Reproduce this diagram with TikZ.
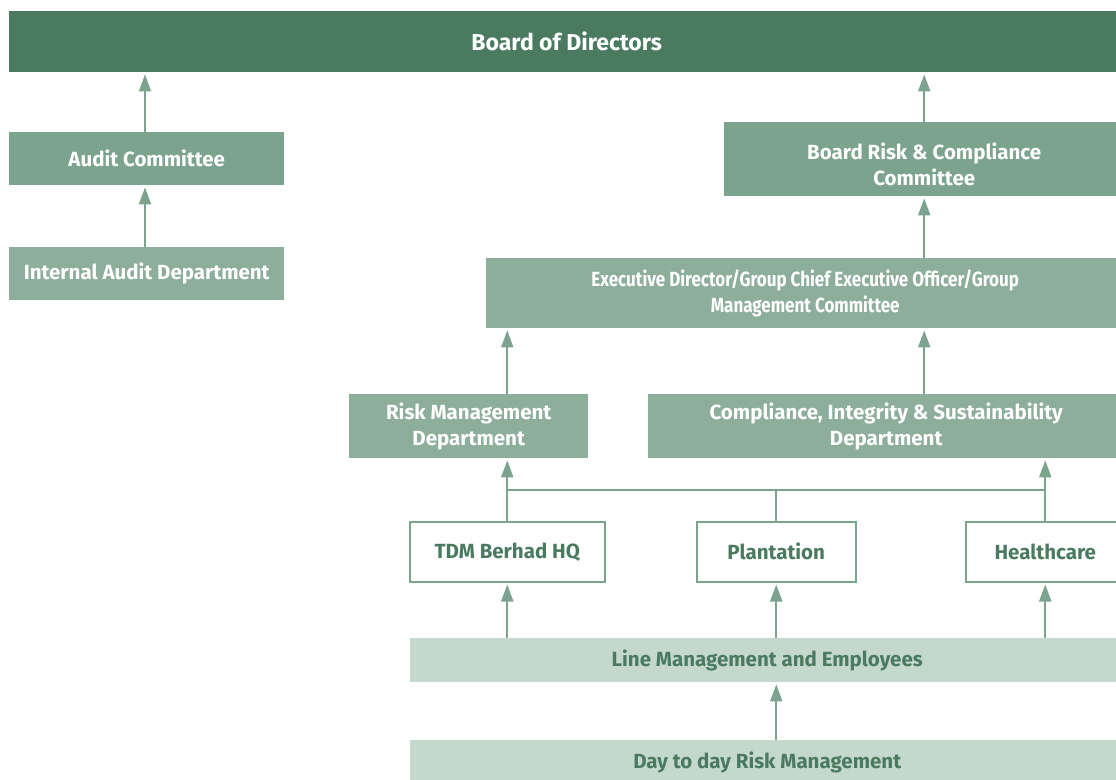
\documentclass[tikz,border=0pt]{standalone}
\usepackage{fontspec}
\setmainfont{Fira Sans}
\newfontfamily\narrowfont[FakeStretch=0.83]{Fira Sans}
\usepackage{tikz}
\usetikzlibrary{positioning,arrows.meta,calc}
\definecolor{boardc}{RGB}{74,123,96}
\definecolor{commc}{RGB}{123,163,141}
\definecolor{deptc}{RGB}{142,174,156}
\definecolor{linec}{RGB}{197,216,206}
\tikzset{
  base/.style     = {rectangle, anchor=north west, align=center, inner sep=2pt,
                     font=\fontsize{20.5}{26}\selectfont\bfseries},
  boardbox/.style = {base, fill=boardc, text=white, font=\fontsize{23}{26}\selectfont\bfseries},
  commbox/.style  = {base, fill=commc, text=white},
  deptbox/.style  = {base, fill=deptc, text=white},
  unitbox/.style  = {base, draw=commc, line width=1.5pt, fill=white, text=boardc},
  linebox/.style  = {base, fill=linec, text=boardc},
  flow/.style     = {-{Triangle[length=17pt,width=12pt]}, line width=2pt, draw=commc,
                     shorten >=2pt},
  link/.style     = {line width=2pt, draw=commc},
}

\begin{document}
\begin{tikzpicture}[x=1pt,y=-1pt]
\useasboundingbox (0,0) rectangle (1116,779);
\clip (0,0) rectangle (1116,779);

\node[boardbox, minimum width=1115pt, minimum height=61pt] (board) at (9,11)
  {Board of Directors};

% audit side
\node[commbox, minimum width=275pt, minimum height=53pt] (audit) at (9,132)
  {Audit Committee};
\node[deptbox, minimum width=275pt, minimum height=53pt] (iad) at (9,247)
  {Internal Audit Department};

% risk side
\node[commbox, minimum width=400pt, minimum height=74pt] (brcc) at (724,122)
  {\vphantom{X}\\[-13pt]Board Risk \& Compliance\\Committee};
\node[deptbox, minimum width=638pt, minimum height=70pt,
      font=\narrowfont\fontsize{20.5}{26}\selectfont\bfseries] (exec) at (486,258)
  {Executive Director/Group Chief Executive Officer/Group\\Management Committee};
\node[deptbox, minimum width=239pt, minimum height=64pt] (rmd) at (349,394)
  {Risk Management\\Department};
\node[deptbox, minimum width=476pt, minimum height=64pt] (cis) at (648,394)
  {Compliance, Integrity \& Sustainability\\Department};

% business units
\node[unitbox, minimum width=195pt, minimum height=60pt] (tdm) at (409,521)
  {TDM Berhad HQ};
\node[unitbox, minimum width=159pt, minimum height=60pt] (plant) at (696,521)
  {Plantation};
\node[unitbox, minimum width=159pt, minimum height=60pt] (health) at (965,521)
  {Healthcare};

\node[linebox, minimum width=714pt, minimum height=44pt] (lm) at (410,638)
  {Line Management and Employees};
\node[linebox, minimum width=714pt, minimum height=44pt] (day) at (410,740)
  {Day to day Risk Management};

\coordinate (bus) at (0,490);

\draw[flow] (audit.north -| 145,0) -- (board.south -| 145,0);
\draw[flow] (iad.north -| 145,0) -- (audit.south -| 145,0);
\draw[flow] (brcc.north) -- (board.south -| brcc.north);
\draw[flow] (exec.north -| brcc.south) -- (brcc.south);
\draw[flow] (cis.north -| brcc.south) -- (exec.south -| brcc.south);
\draw[flow] (rmd.north -| tdm.north) -- (exec.south -| tdm.north);

\draw[flow] (tdm.north) -- (rmd.south -| tdm.north);
\draw[flow] (health.north) -- (cis.south -| health.north);
\draw[link] (tdm.north |- bus) -- (health.north |- bus);
\draw[link] (plant.north) -- (plant.north |- bus);

\draw[flow] (lm.north -| tdm.south) -- (tdm.south);
\draw[flow] (lm.north -| plant.south) -- (plant.south);
\draw[flow] (lm.north -| health.south) -- (health.south);
\draw[flow] (day.north -| plant.south) -- (lm.south -| plant.south);

\end{tikzpicture}
\end{document}
